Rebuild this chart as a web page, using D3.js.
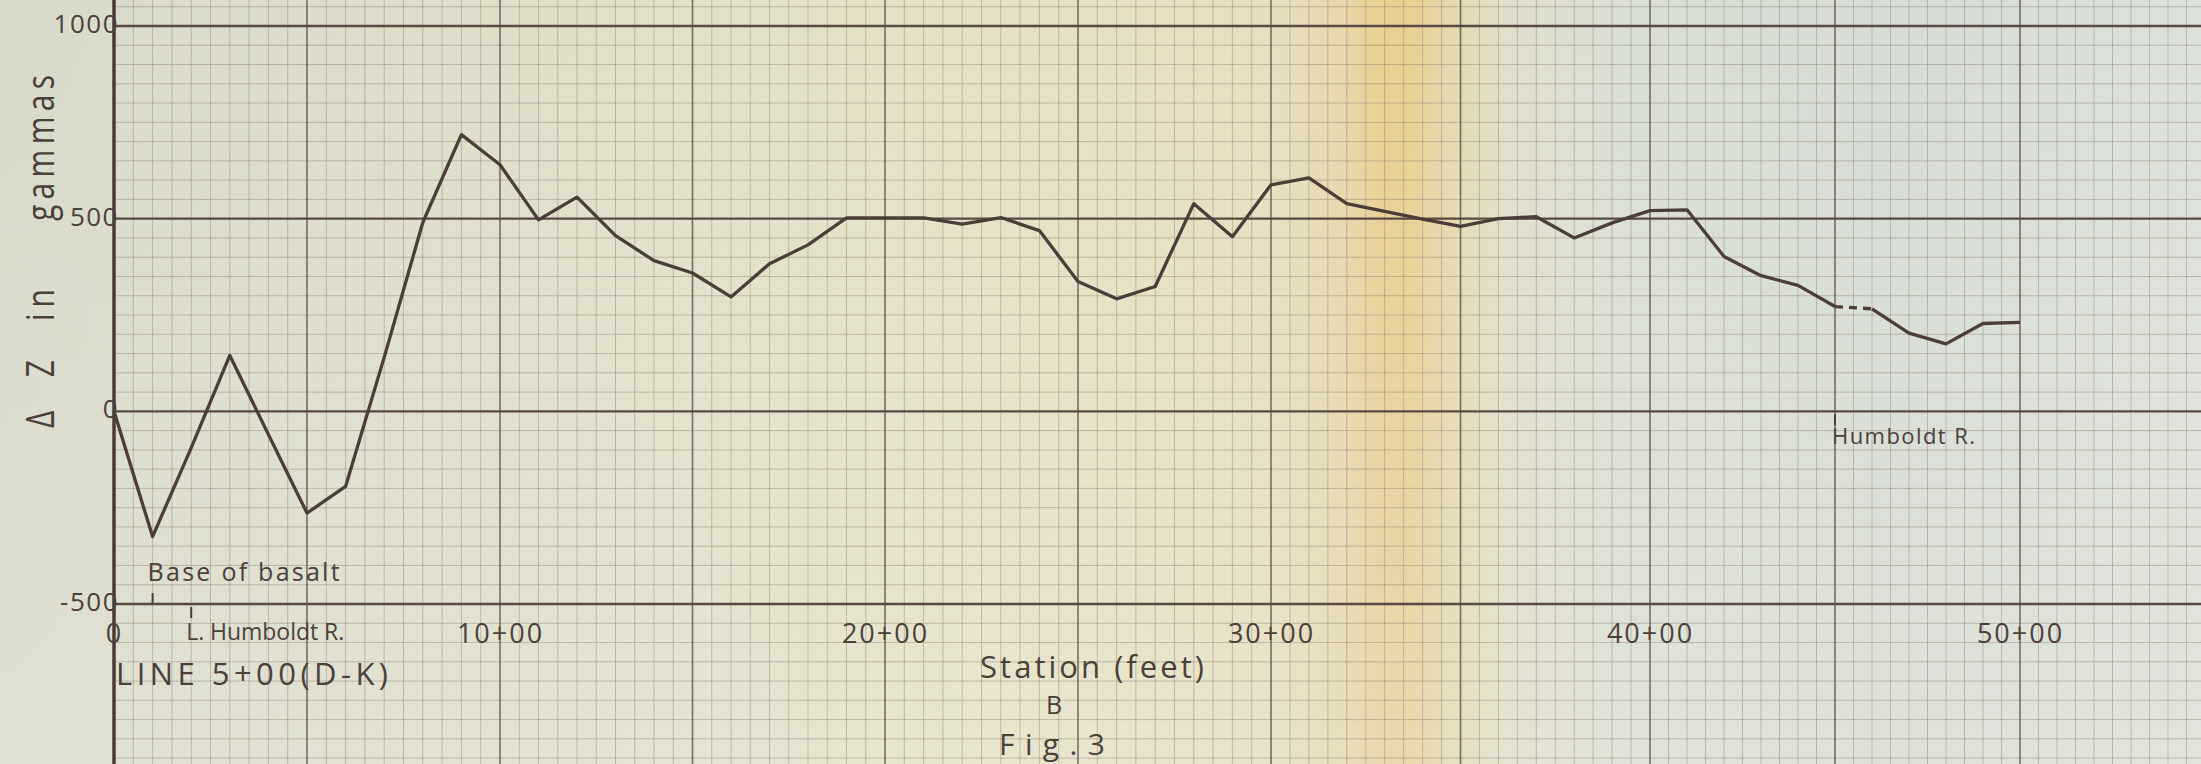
<!DOCTYPE html>
<html>
<head>
<meta charset="utf-8">
<script src="https://cdn.jsdelivr.net/npm/d3@7"></script>
<style>
  body { margin: 0; background: #dedecb; }
  svg { display: block; }
  text { font-family: "Open Sans", Lato, sans-serif; fill: #4c403a; }
</style>
</head>
<body>
<script>
const width = 2201, height = 764;

// station in hundreds of feet (10 = 10+00)
const stations = [0, 1, 2, 3, 4, 5, 6, 7, 8, 9,
  10, 11, 12, 13, 14, 15, 16, 17, 18, 19,
  20, 21, 22, 23, 24, 25, 26, 27, 28, 29,
  30, 31, 32, 33, 34, 35, 36, 37, 38, 39,
  40, 41, 42, 43, 44, 45, 46, 47, 48, 49, 50];
// vertical magnetic anomaly, gammas
const deltaZ = [0, -325, -95, 145, -60, -264, -195, 140, 490, 718,
  640, 497, 556, 456, 391, 359, 297, 383, 432, 502,
  502, 502, 486, 503, 469, 337, 292, 324, 539, 453,
  588, 606, 539, 519, 499, 480, 500, 505, 450, 489,
  521, 523, 402, 352, 327, 272, 266, 203, 175, 228, 231];
// stretch across the river, drawn dashed
const dashedFrom = 45, dashedTo = 46;

const yTicks = [-500, 0, 500, 1000];
const xTicks = [0, 10, 20, 30, 40, 50];

// the scanned sheet is a little squeezed on the right, so the station
// scale is calibrated piecewise on the labelled stations
const x = d3.scaleLinear().domain(xTicks).range([114, 500, 885, 1271, 1650, 2020]);
const y = d3.scaleLinear().domain([-500, 1000]).range([604, 26]);

const svg = d3.select("body").append("svg")
    .attr("width", width)
    .attr("height", height);

// old paper: grey on the left, a yellow stain in the middle, bluish on the right
const defs = svg.append("defs");
const paper = defs.append("linearGradient").attr("id", "paper");
paper.selectAll("stop")
  .data([[0, "#d8dac8"], [0.12, "#dcdcca"], [0.3, "#e1e0c9"], [0.45, "#e6e1c6"],
         [0.58, "#e7dec0"], [0.607, "#e7d8ad"], [0.627, "#e8cf92"], [0.642, "#e7d092"],
         [0.66, "#e5d9b0"], [0.685, "#e1dfcb"], [0.735, "#dadfd4"], [0.86, "#d6dcd5"],
         [1, "#dce1da"]])
  .join("stop")
    .attr("offset", d => d[0])
    .attr("stop-color", d => d[1]);
const fade = defs.append("linearGradient").attr("id", "fade")
    .attr("x1", 0).attr("x2", 0).attr("y1", 0).attr("y2", 1);
fade.append("stop").attr("offset", 0).attr("stop-color", "#ecebdf").attr("stop-opacity", 0);
fade.append("stop").attr("offset", 1).attr("stop-color", "#ecebdf").attr("stop-opacity", 0.35);

svg.append("rect").attr("width", width).attr("height", height).attr("fill", "url(#paper)");
svg.append("rect").attr("width", width).attr("height", height).attr("fill", "url(#fade)");

// graph paper grid
const x0 = x(0);
const minorX = d3.range(0.5, 60, 0.5).filter(s => x(s) <= width && s % 5 !== 0);
const majorX = d3.range(5, 60, 5).filter(s => x(s) <= width);
const minorY = d3.range(-950, 1150, 50).filter(v => v % 500 !== 0);
const majorY = d3.range(-500, 1001, 500);

const grid = svg.append("g").attr("fill", "none");
grid.append("g")
    .attr("stroke", "#8a7c6d")
    .attr("stroke-opacity", 0.42)
    .attr("stroke-width", 1)
  .call(g => g.selectAll("line.v").data(minorX).join("line").attr("class", "v")
      .attr("x1", d => x(d)).attr("x2", d => x(d)).attr("y1", 0).attr("y2", height))
  .call(g => g.selectAll("line.h").data(minorY).join("line").attr("class", "h")
      .attr("x1", x0).attr("x2", width).attr("y1", d => y(d)).attr("y2", d => y(d)));

grid.append("g")
    .attr("stroke", "#5e4f48")
    .attr("stroke-opacity", 0.8)
    .attr("stroke-width", 1.6)
  .selectAll("line").data(majorX).join("line")
    .attr("x1", d => x(d)).attr("x2", d => x(d)).attr("y1", 0).attr("y2", height);

grid.append("g")
    .attr("stroke", "#594a43")
    .attr("stroke-width", 2.4)
  .selectAll("line").data(majorY).join("line")
    .attr("x1", x0).attr("x2", width).attr("y1", d => y(d)).attr("y2", d => y(d));

// y axis line
svg.append("line")
    .attr("x1", x0).attr("x2", x0).attr("y1", 0).attr("y2", height)
    .attr("stroke", "#4a3b36").attr("stroke-width", 3.5);

// tick labels
svg.append("g")
    .attr("transform", `translate(${x0},0)`)
    .call(d3.axisLeft(y).tickValues(yTicks).tickSize(0).tickPadding(-5).tickFormat(d => String(d)))
    .call(g => g.select(".domain").remove())
    .call(g => g.selectAll("text").attr("font-size", 26).attr("font-family", null)
      .attr("dy", "0.25em").attr("letter-spacing", 1.5).attr("fill", "#574a44"));

svg.append("g")
    .attr("transform", `translate(0,${y(-500)})`)
    .call(d3.axisBottom(x).tickValues(xTicks).tickSize(0).tickPadding(20)
      .tickFormat(d => d === 0 ? "0" : d + "+00"))
    .call(g => g.select(".domain").remove())
    .call(g => g.selectAll("text").attr("font-size", 27).attr("font-family", null)
      .attr("letter-spacing", 2).attr("fill", "#4c403a"));

// rotated axis title, word by word as lettered (tall, widely spaced letters)
const title = [
  {t: "Δ Z", c: 394, len: 68},
  {t: "in", c: 305, len: 32},
  {t: "gammas", c: 148, len: 146}
];
svg.append("g").selectAll("text").data(title).join("text")
    .attr("transform", d => `translate(54,${d.c}) rotate(-90) scale(1,1.3)`)
    .attr("text-anchor", "middle")
    .attr("font-size", 30)
    .attr("textLength", d => d.len)
    .attr("lengthAdjust", "spacing")
    .attr("fill", "#564943")
    .text(d => d.t);

// the data line
const points = stations.map((s, i) => ({s, v: deltaZ[i]}));
const line = d3.line().x(d => x(d.s)).y(d => y(d.v));
const plot = svg.append("g")
    .attr("fill", "none")
    .attr("stroke", "#4b3e39")
    .attr("stroke-width", 3.3)
    .attr("stroke-linejoin", "round");
plot.append("path").attr("d", line(points.filter(p => p.s <= dashedFrom)));
plot.append("path").attr("d", line(points.filter(p => p.s >= dashedTo)));
plot.append("path").attr("d", line(points.filter(p => p.s >= dashedFrom && p.s <= dashedTo)))
    .attr("stroke-dasharray", "8 6");

// site notes with small ticks
const notes = [
  {s: 1, text: "Base of basalt", y0: -500, up: true, dx: -5, ty: -23, size: 25, len: 192},
  {s: 2, text: "L. Humboldt R.", y0: -500, up: false, dx: -5, ty: 36, size: 23, len: 158},
  {s: 45, text: "Humboldt R.", y0: 0, up: false, dx: -3, ty: 33, size: 22, len: 143}
];
const ng = svg.append("g");
ng.selectAll("line").data(notes).join("line")
    .attr("x1", d => x(d.s)).attr("x2", d => x(d.s))
    .attr("y1", d => y(d.y0) + (d.up ? -11 : 3))
    .attr("y2", d => y(d.y0) + (d.up ? 0 : 14))
    .attr("stroke", "#4b3e39").attr("stroke-width", 2);
ng.selectAll("text").data(notes).join("text")
    .attr("x", d => x(d.s) + d.dx)
    .attr("y", d => y(d.y0) + d.ty)
    .attr("font-size", d => d.size)
    .attr("textLength", d => d.len)
    .attr("lengthAdjust", "spacing")
    .attr("fill", "#4a3e38")
    .text(d => d.text);

// captions under the plot
svg.append("text")
    .attr("x", x0 + 2).attr("y", 685)
    .attr("font-size", 31).attr("textLength", 272).attr("lengthAdjust", "spacing")
    .text("LINE 5+00(D-K)");
svg.append("text")
    .attr("x", 1092).attr("y", 678).attr("text-anchor", "middle")
    .attr("font-size", 31).attr("textLength", 224).attr("lengthAdjust", "spacing")
    .text("Station (feet)");
svg.append("text")
    .attr("x", 1054).attr("y", 714).attr("text-anchor", "middle")
    .attr("font-size", 25)
    .text("B");
svg.append("text")
    .attr("x", 1052).attr("y", 755).attr("text-anchor", "middle")
    .attr("font-size", 30).attr("textLength", 106).attr("lengthAdjust", "spacing")
    .text("Fig.3");
</script>
</body>
</html>
